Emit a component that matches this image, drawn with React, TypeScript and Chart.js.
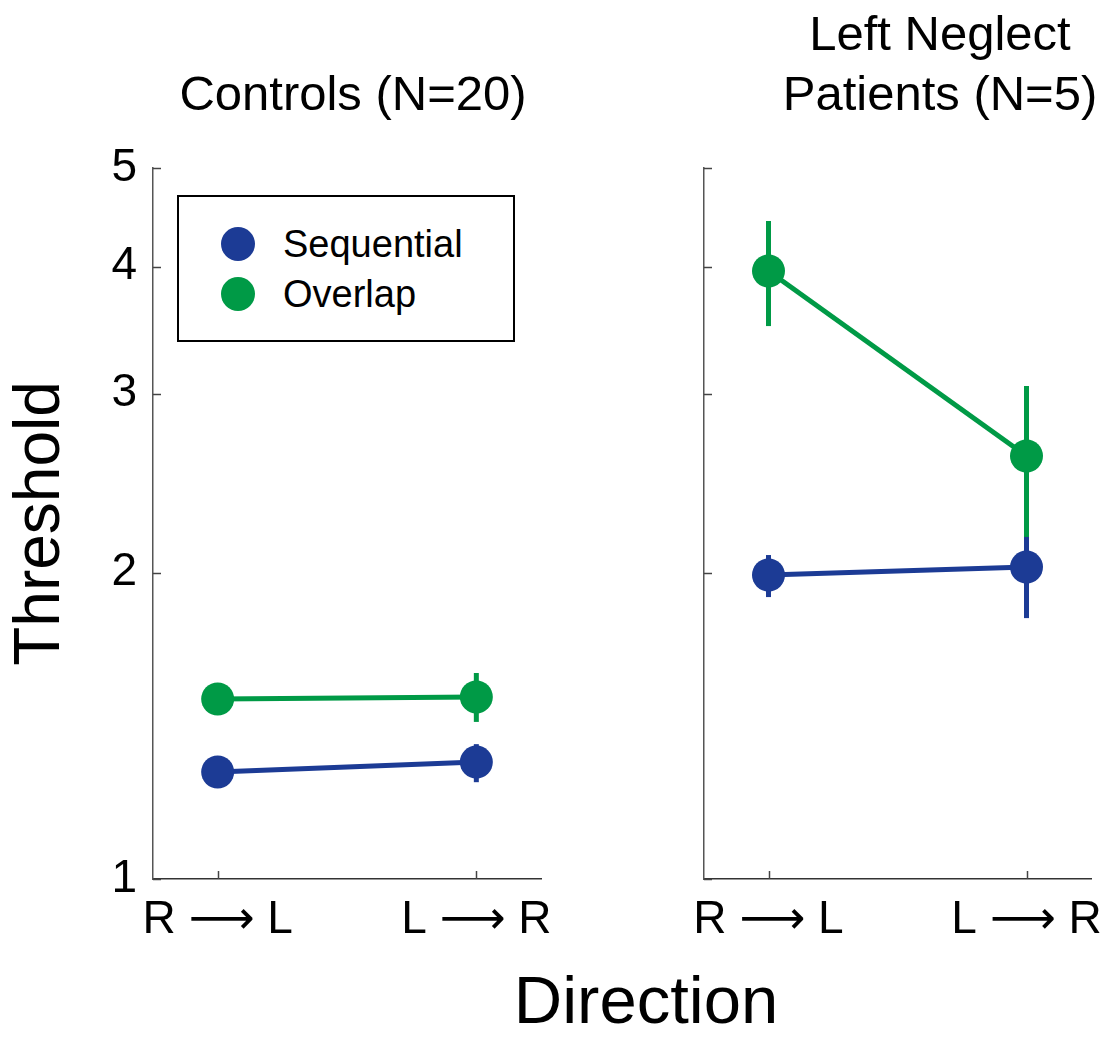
import React, { useEffect, useRef } from 'react';
import { Chart, registerables } from 'chart.js';

Chart.register(...registerables);

// ---------- data ----------
const SERIES_NAMES = ['Sequential', 'Overlap'];
const SERIES_COLORS = ['#1c3b95', '#009a46'];
const PANEL_TITLES = [['Controls (N=20)'], ['Left Neglect', 'Patients (N=5)']];
const X_VALUES = [1, 2];
const X_LABELS = ['R \u27F6 L', 'L \u27F6 R'];
const Y_TICKS = [1, 2, 3, 4, 5];
const Y_TITLE = 'Threshold';
const X_TITLE = 'Direction';

const controlsSequential = [1.274, 1.303];
const controlsSequentialLow = [1.251, 1.245];
const controlsSequentialHigh = [1.297, 1.357];
const controlsOverlap = [1.503, 1.51];
const controlsOverlapLow = [1.476, 1.427];
const controlsOverlapHigh = [1.53, 1.594];

const patientsSequential = [1.99, 2.026];
const patientsSequentialLow = [1.893, 1.805];
const patientsSequentialHigh = [2.082, 2.169];
const patientsOverlap = [3.96, 2.605];
const patientsOverlapLow = [3.496, 2.169];
const patientsOverlapHigh = [4.435, 3.052];

const FONT = "'Liberation Sans', Arial, Helvetica, 'DejaVu Sans', sans-serif";

const errorBarPlugin = {
  id: 'errorBars',
  beforeDatasetDraw(chart: any, args: any) {
    const ds: any = chart.data.datasets[args.index];
    if (!ds.errLow) return;
    const { ctx } = chart;
    const x = chart.scales.x;
    const y = chart.scales.y;
    ctx.save();
    ctx.strokeStyle = ds.borderColor;
    ctx.lineWidth = 5;
    ctx.lineCap = 'butt';
    ds.data.forEach((pt: any, i: number) => {
      const px = x.getPixelForValue(pt.x);
      ctx.beginPath();
      ctx.moveTo(px, y.getPixelForValue(ds.errLow[i]));
      ctx.lineTo(px, y.getPixelForValue(ds.errHigh[i]));
      ctx.stroke();
    });
    ctx.restore();
  },
};

const innerTicksPlugin = {
  id: 'innerTicks',
  beforeDatasetsDraw(chart: any) {
    const { ctx, chartArea } = chart;
    const x = chart.scales.x;
    const y = chart.scales.y;
    ctx.save();
    ctx.strokeStyle = '#444';
    ctx.lineWidth = 1.5;
    y.ticks.forEach((t: any) => {
      const py = Math.round(y.getPixelForValue(t.value)) + 0.5;
      ctx.beginPath();
      ctx.moveTo(chartArea.left, py);
      ctx.lineTo(chartArea.left + 8, py);
      ctx.stroke();
    });
    x.ticks.forEach((t: any) => {
      const px = Math.round(x.getPixelForValue(t.value)) + 0.5;
      ctx.beginPath();
      ctx.moveTo(px, chartArea.bottom);
      ctx.lineTo(px, chartArea.bottom - 8);
      ctx.stroke();
    });
    ctx.restore();
  },
};

type PanelProps = {
  left: number;
  width: number;
  areaLeft: number;
  areaRight: number;
  showYLabels: boolean;
  seq: number[];
  seqLow: number[];
  seqHigh: number[];
  ovl: number[];
  ovlLow: number[];
  ovlHigh: number[];
};

const AREA_TOP = 168;
const AREA_BOTTOM = 879;
const HEIGHT = 1040;
const X_AXIS_H = 100;

function Panel(p: PanelProps) {
  const ref = useRef<HTMLCanvasElement | null>(null);
  useEffect(() => {
    if (!ref.current) return;
    const yWidth = p.showYLabels ? 150 : 24;
    const mk = (i: number, vals: number[], lo: number[], hi: number[]) => ({
      label: SERIES_NAMES[i],
      data: X_VALUES.map((x, k) => ({ x, y: vals[k] })),
      errLow: lo,
      errHigh: hi,
      borderColor: SERIES_COLORS[i],
      backgroundColor: SERIES_COLORS[i],
      pointBackgroundColor: SERIES_COLORS[i],
      pointBorderWidth: 0,
      pointRadius: 16.5,
      pointHoverRadius: 16.5,
      borderWidth: 5,
      showLine: true,
      tension: 0,
      clip: false,
    });
    const chart = new Chart(ref.current, {
      type: 'line',
      data: {
        datasets: [
          mk(0, p.seq, p.seqLow, p.seqHigh) as any,
          mk(1, p.ovl, p.ovlLow, p.ovlHigh) as any,
        ],
      },
      options: {
        animation: false,
        responsive: false,
        events: [],
        layout: {
          padding: {
            left: p.areaLeft - yWidth,
            right: p.width - p.areaRight,
            top: AREA_TOP,
            bottom: HEIGHT - AREA_BOTTOM - X_AXIS_H,
          },
        },
        plugins: {
          legend: { display: false },
          tooltip: { enabled: false },
          title: { display: false },
        },
        scales: {
          x: {
            type: 'linear',
            min: 0.75,
            max: 2.25,
            afterBuildTicks: (s: any) => {
              s.ticks = X_VALUES.map((v) => ({ value: v }));
            },
            afterFit: (s: any) => {
              s.height = X_AXIS_H;
              s.paddingLeft = 0;
              s.paddingRight = 0;
            },
            grid: { display: false, drawTicks: false },
            border: { display: true, color: '#333', width: 1.5 },
            ticks: {
              padding: 14,
              color: '#000',
              maxRotation: 0,
              autoSkip: false,
              font: { family: FONT, size: 46 },
              callback: (v: any) => X_LABELS[X_VALUES.indexOf(Number(v))] ?? '',
            },
          },
          y: {
            type: 'logarithmic',
            min: 1,
            max: 5,
            afterBuildTicks: (s: any) => {
              s.ticks = Y_TICKS.map((v) => ({ value: v }));
            },
            afterFit: (s: any) => {
              s.width = yWidth;
              s.paddingTop = 0;
              s.paddingBottom = 0;
            },
            grid: { display: false, drawTicks: false },
            border: { display: true, color: '#555', width: 1.5 },
            title: {
              display: p.showYLabels,
              text: Y_TITLE,
              color: '#000',
              padding: { top: 0, bottom: 0 },
              font: { family: FONT, size: 64 },
            },
            ticks: {
              display: p.showYLabels,
              padding: 16,
              color: '#000',
              autoSkip: false,
              font: { family: FONT, size: 46 },
              callback: (v: any) => String(v),
            },
          },
        },
      } as any,
      plugins: [errorBarPlugin, innerTicksPlugin],
    });
    return () => chart.destroy();
  }, []);
  return (
    <canvas
      ref={ref}
      width={p.width}
      height={HEIGHT}
      style={{ position: 'absolute', left: p.left, top: 0, width: p.width, height: HEIGHT }}
    />
  );
}

export default function App() {
  const textBase: React.CSSProperties = {
    position: 'absolute',
    fontFamily: FONT,
    color: '#000',
    whiteSpace: 'nowrap',
    textAlign: 'center',
  };
  return (
    <div style={{ position: 'absolute', left: 0, top: 0, width: 1113, height: 1040, background: '#fff', overflow: 'hidden' }}>
      <Panel
        left={0}
        width={580}
        areaLeft={153}
        areaRight={541}
        showYLabels={true}
        seq={controlsSequential}
        seqLow={controlsSequentialLow}
        seqHigh={controlsSequentialHigh}
        ovl={controlsOverlap}
        ovlLow={controlsOverlapLow}
        ovlHigh={controlsOverlapHigh}
      />
      <Panel
        left={580}
        width={560}
        areaLeft={124}
        areaRight={511}
        showYLabels={false}
        seq={patientsSequential}
        seqLow={patientsSequentialLow}
        seqHigh={patientsSequentialHigh}
        ovl={patientsOverlap}
        ovlLow={patientsOverlapLow}
        ovlHigh={patientsOverlapHigh}
      />
      {/* panel titles */}
      <div style={{ ...textBase, left: 153, width: 400, top: 63, fontSize: 49, lineHeight: '60px' }}>
        {PANEL_TITLES[0].map((t) => (
          <div key={t}>{t}</div>
        ))}
      </div>
      <div style={{ ...textBase, left: 740, width: 400, top: 3, fontSize: 49, lineHeight: '60px' }}>
        {PANEL_TITLES[1].map((t) => (
          <div key={t}>{t}</div>
        ))}
      </div>
      {/* x axis title */}
      <div style={{ ...textBase, left: 446, width: 400, top: 960, fontSize: 67, lineHeight: '80px' }}>
        {X_TITLE}
      </div>
      {/* legend */}
      <div
        style={{
          position: 'absolute',
          left: 177,
          top: 195,
          width: 334,
          height: 143,
          border: '2px solid #000',
          background: '#fff',
          fontFamily: FONT,
        }}
      >
        {SERIES_NAMES.map((name, i) => (
          <div key={name} style={{ position: 'absolute', left: 0, top: 22 + i * 50, height: 50, width: 330 }}>
            <div
              style={{
                position: 'absolute',
                left: 42,
                top: 8,
                width: 34,
                height: 34,
                borderRadius: 17,
                background: SERIES_COLORS[i],
              }}
            />
            <div style={{ position: 'absolute', left: 104, top: 0, fontSize: 38, lineHeight: '50px', color: '#000' }}>
              {name}
            </div>
          </div>
        ))}
      </div>
    </div>
  );
}
